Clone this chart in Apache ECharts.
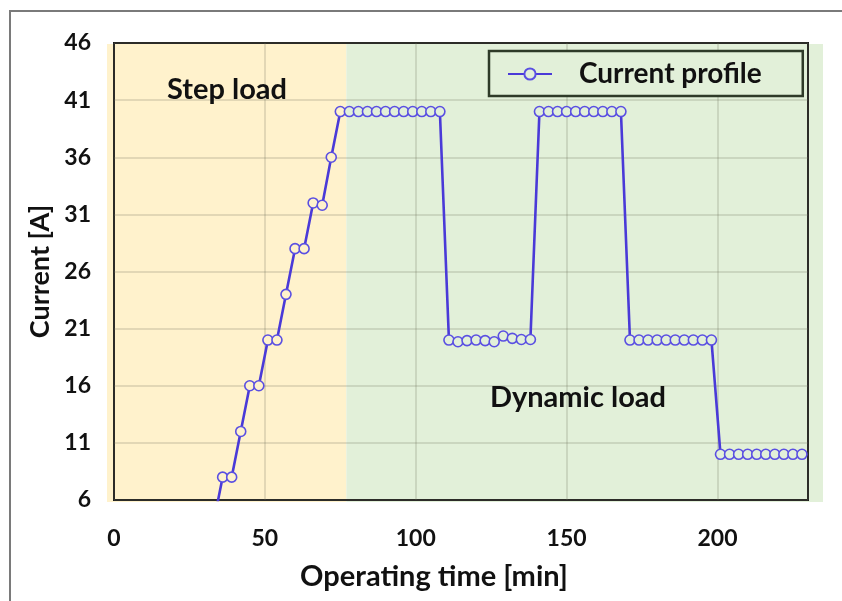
<!DOCTYPE html>
<html>
<head>
<meta charset="utf-8">
<script src="https://cdn.jsdelivr.net/npm/echarts@6/dist/echarts.min.js"></script>
<style>
  html, body { margin: 0; padding: 0; background: #ffffff; }
  #chart { width: 842px; height: 601px; }
</style>
</head>
<body>
<div id="chart"></div>
<script>
// Operating time of each sample [min]
const timeMin = [
  33, 36, 39, 42, 45, 48, 51, 54, 57, 60, 63, 66, 69, 72,
  75, 78, 81, 84, 87, 90, 93, 96, 99, 102, 105, 108,
  111, 114, 117, 120, 123, 126, 129, 132, 135, 138,
  141, 144, 147, 150, 153, 156, 159, 162, 165, 168,
  171, 174, 177, 180, 183, 186, 189, 192, 195, 198,
  201, 204, 207, 210, 213, 216, 219, 222, 225, 228
];
// Measured current at each sample [A]
const currentA = [
  4, 8, 8, 12, 16, 16, 20, 20, 24, 28, 28, 32, 31.8, 36,
  40, 40, 40, 40, 40, 40, 40, 40, 40, 40, 40, 40,
  20, 19.85, 19.95, 20, 19.95, 19.85, 20.35, 20.15, 20.05, 20.05,
  40, 40, 40, 40, 40, 40, 40, 40, 40, 40,
  20, 20, 20, 20, 20, 20, 20, 20, 20, 20,
  10, 10, 10, 10, 10, 10, 10, 10, 10, 10
];
// Axis ticks
const xTicks = [0, 50, 100, 150, 200];
const xMax = 230;
const yTicks = [6, 11, 16, 21, 26, 31, 36, 41, 46];
// End of the step-load phase [min]
const stepLoadEnd = 77;

const seriesName = 'Current profile';
const FONT = 'Lato';
const ORANGE = '#FFF2CC';
const GREEN = '#E2F0D9';
const LINE = '#4a3ad8';

const chart = echarts.init(document.getElementById('chart'));

const points = timeMin.map((t, i) => ({
  value: [t, currentA[i]],
  itemStyle: { color: t < stepLoadEnd ? ORANGE : GREEN }
}));

const gridLine = { show: true, lineStyle: { color: 'rgba(110,110,90,0.2)', width: 2 } };

chart.setOption({
  animation: false,
  grid: {
    left: 114, right: 34, top: 43, bottom: 101,
    show: true, backgroundColor: 'transparent',
    borderColor: '#1c1c1c', borderWidth: 2,
    outerBoundsMode: 'none'
  },
  legend: {
    left: 489, top: 51,
    data: [seriesName],
    backgroundColor: GREEN,
    borderColor: '#2e3a28', borderWidth: 2.5,
    padding: [9, 41, 8, 18],
    itemWidth: 44, itemHeight: 14,
    textStyle: { fontFamily: FONT, fontWeight: 'bold', fontSize: 28, color: '#111', padding: [0, 0, 0, 22] }
  },
  xAxis: {
    type: 'value',
    min: xTicks[0], max: xMax, interval: xTicks[1] - xTicks[0],
    name: 'Operating time [min]',
    nameLocation: 'middle', nameGap: 62,
    nameTextStyle: { fontFamily: FONT, fontWeight: 'bold', fontSize: 29, color: '#111', padding: [0, 54, 0, 0] },
    axisLine: { show: false }, axisTick: { show: false },
    axisLabel: { fontFamily: FONT, fontWeight: 'bold', fontSize: 23, color: '#111', margin: 27, showMaxLabel: false },
    splitLine: gridLine
  },
  yAxis: {
    type: 'value',
    min: yTicks[0], max: yTicks[yTicks.length - 1], interval: yTicks[1] - yTicks[0],
    name: 'Current [A]',
    nameLocation: 'middle', nameGap: 57,
    nameTextStyle: { fontFamily: FONT, fontWeight: 'bold', fontSize: 27, color: '#111' },
    axisLine: { show: false }, axisTick: { show: false },
    axisLabel: { fontFamily: FONT, fontWeight: 'bold', fontSize: 23, color: '#111', margin: 23 },
    splitLine: gridLine
  },
  series: [{
    name: seriesName,
    type: 'line',
    data: points,
    symbol: 'circle',
    symbolSize: 10,
    showAllSymbol: true,
    clip: true,
    lineStyle: { color: LINE, width: 2.6 },
    itemStyle: { color: GREEN, borderColor: '#5a4fe2', borderWidth: 1.6 },
    emphasis: { disabled: true },
    z: 5
  }]
});

// Background panels for the two load phases, placed from the axis scale
const x0 = chart.convertToPixel({ xAxisIndex: 0 }, xTicks[0]);
const xEnd = chart.convertToPixel({ xAxisIndex: 0 }, xMax);
const xSplit = chart.convertToPixel({ xAxisIndex: 0 }, stepLoadEnd);
const yTop = chart.convertToPixel({ yAxisIndex: 0 }, yTicks[yTicks.length - 1]);
const yBot = chart.convertToPixel({ yAxisIndex: 0 }, yTicks[0]);

chart.setOption({
  graphic: [
    { type: 'rect', z: -20, silent: true,
      shape: { x: x0 - 7, y: yTop + 1, width: xSplit - x0 + 7, height: yBot - yTop + 1 },
      style: { fill: ORANGE } },
    { type: 'rect', z: -20, silent: true,
      shape: { x: xSplit, y: yTop + 1, width: xEnd - xSplit + 15, height: yBot - yTop + 1 },
      style: { fill: GREEN } },
    { type: 'rect', z: -30, silent: true,
      shape: { x: 10, y: 11, width: 1000, height: 1000 },
      style: { fill: 'none', stroke: '#7a7a7a', lineWidth: 2 } },
    { type: 'text', z: 10, silent: true, left: 167, top: 75,
      style: { text: 'Step load', fontFamily: FONT, fontWeight: 'bold', fontSize: 29, fill: '#111' } },
    { type: 'text', z: 10, silent: true, left: 490, top: 383,
      style: { text: 'Dynamic load', fontFamily: FONT, fontWeight: 'bold', fontSize: 29, fill: '#111' } }
  ]
});
</script>
</body>
</html>
